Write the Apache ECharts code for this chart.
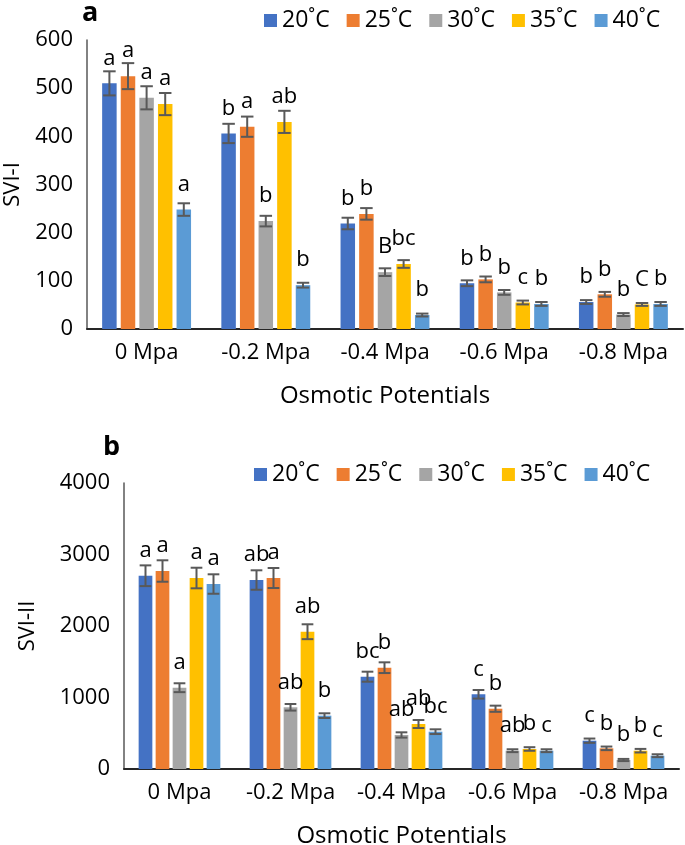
<!DOCTYPE html>
<html>
<head>
<meta charset="utf-8">
<script src="https://cdn.jsdelivr.net/npm/echarts@6/dist/echarts.min.js"></script>
<style>
  html, body { margin: 0; padding: 0; background: #fff; }
  #chart { width: 685px; height: 845px; }
</style>
</head>
<body>
<div id="chart"></div>
<script>
// categories and legend names
const categories = ['0 Mpa', '-0.2 Mpa', '-0.4 Mpa', '-0.6 Mpa', '-0.8 Mpa'];
const temps = ['20˚C', '25˚C', '30˚C', '35˚C', '40˚C'];
const colors = ['#4472C4', '#ED7D31', '#A5A5A5', '#FFC000', '#5B9BD5'];

// panel a: SVI-I
const sviI_20 = [510, 406, 219, 95, 56];
const sviI_25 = [525, 420, 239, 103, 72];
const sviI_30 = [480, 224, 118, 76, 30];
const sviI_35 = [467, 430, 135, 55, 51];
const sviI_40 = [248, 91, 29, 52, 52];
const errI_20 = [25, 20, 12, 6, 4];
const errI_25 = [27, 21, 12, 6, 5];
const errI_30 = [24, 11, 8, 5, 3];
const errI_35 = [23, 23, 8, 4, 3];
const errI_40 = [13, 5, 3, 4, 4];
const letI_20 = ['a', 'b', 'b', 'b', 'b'];
const letI_25 = ['a', 'a', 'b', 'b', 'b'];
const letI_30 = ['a', 'b', 'B', 'b', 'b'];
const letI_35 = ['a', 'ab', 'bc', 'c', 'C'];
const letI_40 = ['a', 'b', 'b', 'b', 'b'];
const ticksI = [0, 100, 200, 300, 400, 500, 600];

// panel b: SVI-II
const sviII_20 = [2703, 2643, 1291, 1045, 396];
const sviII_25 = [2769, 2671, 1417, 843, 289];
const sviII_30 = [1137, 863, 476, 256, 126];
const sviII_35 = [2671, 1920, 629, 280, 256];
const sviII_40 = [2587, 746, 522, 256, 186];
const errII_20 = [145, 136, 70, 60, 30];
const errII_25 = [150, 140, 75, 43, 25];
const errII_30 = [62, 46, 37, 20, 15];
const errII_35 = [144, 104, 56, 25, 25];
const errII_40 = [136, 33, 33, 20, 20];
const letII_20 = ['a', 'ab', 'bc', 'c', 'c'];
const letII_25 = ['a', 'a', 'b', 'b', 'b'];
const letII_30 = ['a', 'ab', 'ab', 'ab', 'b'];
const letII_35 = ['a', 'ab', 'ab', 'b', 'b'];
const letII_40 = ['a', 'b', 'bc', 'c', 'c'];
const ticksII = [0, 1000, 2000, 3000, 4000];

const FONT = 'Open Sans';

const panels = [
    {
        values: [sviI_20, sviI_25, sviI_30, sviI_35, sviI_40],
        errors: [errI_20, errI_25, errI_30, errI_35, errI_40],
        letters: [letI_20, letI_25, letI_30, letI_35, letI_40],
        ticks: ticksI, name: 'SVI-I', barWidth: 14.5, gap: 4.1,
        grid: { left: 87, right: 2, top: 40, height: 289, outerBoundsMode: 'none' },
        nameGap: 63, legend: { left: 259, top: 4 }, tag: { x: 82, y: 0, t: 'a' }
    },
    {
        values: [sviII_20, sviII_25, sviII_30, sviII_35, sviII_40],
        errors: [errII_20, errII_25, errII_30, errII_35, errII_40],
        letters: [letII_20, letII_25, letII_30, letII_35, letII_40],
        ticks: ticksII, name: 'SVI-II', barWidth: 13.7, gap: 3.3,
        grid: { left: 124, right: 6, top: 483, height: 286, outerBoundsMode: 'none' },
        nameGap: 85, legend: { left: 249, top: 458 }, tag: { x: 103, y: 434, t: 'b' }
    }
];

const option = {
    backgroundColor: '#fff',
    animation: false,
    textStyle: { fontFamily: FONT },
    grid: [], xAxis: [], yAxis: [], legend: [], series: [], graphic: []
};

panels.forEach((p, gi) => {
    const tickMax = p.ticks[p.ticks.length - 1];
    option.grid.push(p.grid);
    option.xAxis.push({
        type: 'category', gridIndex: gi, data: categories,
        axisLine: { lineStyle: { color: '#262626', width: 2 } },
        axisTick: { show: false },
        axisLabel: { color: '#000', fontSize: 22, margin: 13, interval: 0, fontFamily: FONT },
        name: 'Osmotic Potentials', nameLocation: 'middle', nameGap: 55,
        nameTextStyle: { color: '#000', fontSize: 24, fontFamily: FONT }
    });
    option.yAxis.push({
        type: 'value', gridIndex: gi, min: 0, max: tickMax, interval: p.ticks[1] - p.ticks[0],
        axisLine: { show: true, lineStyle: { color: '#595959', width: 1.5 } },
        axisTick: { show: false },
        splitLine: { show: false },
        axisLabel: { color: '#000', fontSize: 22, margin: 14, fontFamily: FONT, formatter: v => String(v) },
        name: p.name, nameLocation: 'middle', nameGap: p.nameGap, nameRotate: 90,
        nameTextStyle: { color: '#000', fontSize: 22, fontFamily: FONT }
    });
    option.legend.push({
        data: temps,
        left: p.legend.left, top: p.legend.top, width: 430,
        itemWidth: 13, itemHeight: 13, itemGap: 17, icon: 'rect',
        textStyle: { color: '#000', fontSize: 23, fontFamily: FONT }
    });

    const step = p.barWidth + p.gap;
    temps.forEach((t, si) => {
        option.series.push({
            name: t, type: 'bar', xAxisIndex: gi, yAxisIndex: gi,
            data: p.values[si], barWidth: p.barWidth,
            barGap: (p.gap / p.barWidth * 100).toFixed(1) + '%',
            itemStyle: { color: colors[si] },
            label: {
                show: true, position: 'top', distance: 14,
                fontSize: 22, color: '#000', fontFamily: FONT,
                formatter: d => p.letters[si][d.dataIndex]
            },
            z: 2
        });
    });

    // error bars drawn from the value and error arrays
    const errData = [];
    temps.forEach((t, si) => {
        categories.forEach((c, ci) => {
            errData.push([ci, si, p.values[si][ci], p.errors[si][ci]]);
        });
    });
    option.series.push({
        type: 'custom', xAxisIndex: gi, yAxisIndex: gi, data: errData,
        encode: { x: 0, y: 2 }, z: 5, silent: true,
        renderItem: function (params, api) {
            const ci = api.value(0), si = api.value(1), v = api.value(2), e = api.value(3);
            const hi = api.coord([ci, v + e]);
            const lo = api.coord([ci, v - e]);
            const x = hi[0] + (si - 2) * step;
            const half = p.barWidth / 2 - 1;
            const style = { stroke: '#595959', lineWidth: 2, fill: null };
            return {
                type: 'group',
                children: [
                    { type: 'line', shape: { x1: x, y1: hi[1], x2: x, y2: lo[1] }, style },
                    { type: 'line', shape: { x1: x - half, y1: hi[1], x2: x + half, y2: hi[1] }, style },
                    { type: 'line', shape: { x1: x - half, y1: lo[1], x2: x + half, y2: lo[1] }, style }
                ]
            };
        }
    });

    option.graphic.push({
        type: 'text', left: p.tag.x, top: p.tag.y,
        style: { text: p.tag.t, fontSize: 27, fontWeight: 'bold', fill: '#000', fontFamily: FONT }
    });
});

const chart = echarts.init(document.getElementById('chart'));
chart.setOption(option);
</script>
</body>
</html>
